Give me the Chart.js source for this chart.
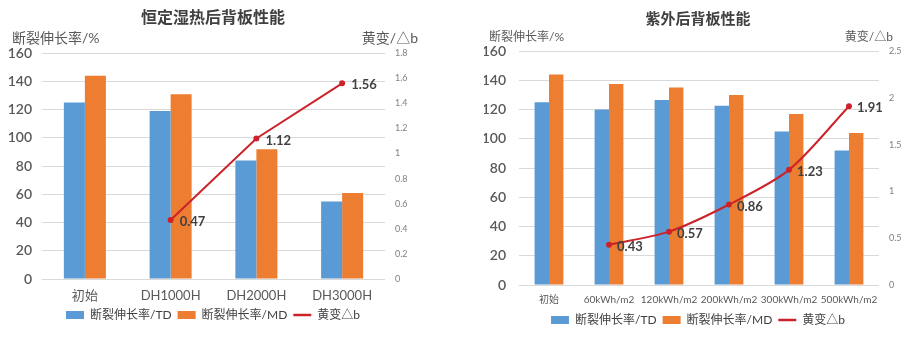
<!DOCTYPE html>
<html>
<head>
<meta charset="utf-8">
<script src="https://cdn.jsdelivr.net/npm/chart.js@4/dist/chart.umd.min.js"></script>
<style>
  html, body { margin: 0; padding: 0; background: #fff; }
  #wrap { position: relative; width: 912px; height: 340px; }
  .panel { position: absolute; top: 0; width: 456px; height: 340px; }
</style>
</head>
<body>
<div id="wrap">
  <div class="panel" style="left:0"><canvas id="dhChart" width="456" height="340"></canvas></div>
  <div class="panel" style="left:456px"><canvas id="uvChart" width="456" height="340"></canvas></div>
</div>
<script>
// 恒定湿热 (damp heat) ageing
const dhCategories = ['初始', 'DH1000H', 'DH2000H', 'DH3000H'];
const dhTD = [125, 119, 84, 55];
const dhMD = [144, 131, 92, 61];
const dhYellowing = [null, 0.47, 1.12, 1.56];

// 紫外 (UV) ageing
const uvCategories = ['初始', '60kWh/m2', '120kWh/m2', '200kWh/m2', '300kWh/m2', '500kWh/m2'];
const uvTD = [125, 120, 126.5, 122.5, 105, 92];
const uvMD = [144, 137.5, 135, 130, 117, 104];
const uvYellowing = [null, 0.43, 0.57, 0.86, 1.23, 1.91];

// axis ranges
const elongationAxis = { min: 0, max: 160, step: 20 };
const dhYellowAxis = { min: 0, max: 1.8, step: 0.2 };
const uvYellowAxis = { min: 0, max: 2.5, step: 0.5 };

const seriesNames = ['断裂伸长率/TD', '断裂伸长率/MD', '黄变△b'];
const leftAxisTitle = '断裂伸长率/%';
const rightAxisTitle = '黄变/△b';

const BLUE = '#5B9BD5';
const ORANGE = '#ED7D31';
const RED = '#CC2229';
const FONT = "Lato, 'Noto Sans CJK SC', sans-serif";

Chart.defaults.font.family = FONT;
Chart.defaults.color = '#595959';

// Draws the two axis captions above the plot and the value labels of the line
const annotate = {
  id: 'annotate',
  afterDatasetsDraw(chart, args, o) {
    const { ctx, chartArea: a } = chart;
    ctx.save();
    ctx.fillStyle = '#595959';
    ctx.textBaseline = 'middle';
    ctx.font = o.axisFont;
    ctx.textAlign = 'left';
    ctx.fillText(leftAxisTitle, a.left + o.leftTitleDx, a.top + o.titleDy);
    ctx.textAlign = 'right';
    ctx.fillText(rightAxisTitle, a.right + o.rightTitleDx, a.top + o.titleDy);

    const ds = chart.data.datasets[2];
    const meta = chart.getDatasetMeta(2);
    ctx.font = o.labelFont;
    ctx.fillStyle = '#404040';
    ctx.textAlign = 'left';
    meta.data.forEach((pt, i) => {
      const v = ds.data[i];
      if (v === null || v === undefined) return;
      ctx.fillText(v.toFixed(2), pt.x + o.labelDx, pt.y + o.labelDy);
    });
    ctx.restore();
  }
};

function legendItems(chart) {
  const items = Chart.defaults.plugins.legend.labels.generateLabels(chart);
  items.sort((p, q) => p.datasetIndex - q.datasetIndex);
  items.forEach(it => {
    if (it.datasetIndex === 2) {
      it.pointStyle = 'line';
      it.strokeStyle = RED;
      it.fillStyle = RED;
      it.lineWidth = 2.5;
    } else {
      it.pointStyle = 'rect';
      it.lineWidth = 0;
    }
  });
  return items;
}

function trimNumber(v) {
  return String(+Number(v).toFixed(2));
}

function buildChart(id, cfg) {
  return new Chart(document.getElementById(id), {
    data: {
      labels: cfg.categories,
      datasets: [
        { type: 'bar', label: seriesNames[0], data: cfg.td, backgroundColor: BLUE, yAxisID: 'y', order: 1,
          categoryPercentage: cfg.catPct, barPercentage: 1.0 },
        { type: 'bar', label: seriesNames[1], data: cfg.md, backgroundColor: ORANGE, yAxisID: 'y', order: 1,
          categoryPercentage: cfg.catPct, barPercentage: 1.0 },
        { type: 'line', label: seriesNames[2], data: cfg.yellow, yAxisID: 'y1', order: 0,
          borderColor: RED, backgroundColor: RED, borderWidth: 2, tension: cfg.tension,
          pointRadius: 2, pointBackgroundColor: RED, pointBorderColor: RED, spanGaps: false }
      ]
    },
    options: {
      responsive: false,
      animation: false,
      events: [],
      layout: { padding: cfg.padding },
      scales: {
        x: {
          grid: { display: false, drawTicks: false },
          border: { display: false },
          ticks: { color: '#595959', font: { size: cfg.catFont }, padding: cfg.catPad, maxRotation: 0, autoSkip: false },
          afterFit: s => { s.height = cfg.xHeight; }
        },
        y: {
          position: 'left',
          min: elongationAxis.min, max: elongationAxis.max,
          ticks: { stepSize: elongationAxis.step, color: '#595959', font: { size: 14, weight: '600' }, padding: cfg.yPad },
          grid: { color: '#D9D9D9', drawTicks: false, lineWidth: 1 },
          border: { display: false },
          afterFit: s => { s.width = cfg.yWidth; }
        },
        y1: {
          position: 'right',
          min: cfg.yAxis.min, max: cfg.yAxis.max,
          ticks: { stepSize: cfg.yAxis.step, color: '#7F7F7F', font: { size: 9 }, padding: 10, callback: trimNumber },
          grid: { display: false, drawTicks: false },
          border: { display: false },
          afterFit: s => { s.width = cfg.y1Width; }
        }
      },
      plugins: {
        title: {
          display: true, text: cfg.title, color: '#404040',
          font: { size: cfg.titleSize, weight: 'bold' }, padding: cfg.titlePad
        },
        legend: {
          position: 'bottom',
          labels: {
            usePointStyle: true, pointStyleWidth: 18, boxHeight: 8, padding: 6,
            color: '#404040', font: { size: cfg.legendFont },
            generateLabels: legendItems
          }
        },
        tooltip: { enabled: false },
        annotate: cfg.annotate
      }
    },
    plugins: [annotate]
  });
}

buildChart('dhChart', {
  categories: dhCategories, td: dhTD, md: dhMD, yellow: dhYellowing,
  yAxis: dhYellowAxis, title: '恒定湿热后背板性能', titleSize: 16,
  titlePad: { top: 8, bottom: 26 },
  padding: { left: 0, right: 30, top: 0, bottom: 9 },
  yWidth: 42, y1Width: 41, xHeight: 24, yPad: 10, catPad: 9, catFont: 13,
  catPct: 0.49, tension: 0, legendFont: 12,
  annotate: { axisFont: "14px " + FONT, leftTitleDx: -30, rightTitleDx: 33, titleDy: -15,
              labelFont: "bold 13px " + FONT, labelDx: 9, labelDy: 2 }
});

buildChart('uvChart', {
  categories: uvCategories, td: uvTD, md: uvMD, yellow: uvYellowing,
  yAxis: uvYellowAxis, title: '紫外后背板性能', titleSize: 15,
  titlePad: { top: 10, bottom: 23 },
  padding: { left: 28, right: 0, top: 0, bottom: 4 },
  yWidth: 35, y1Width: 33, xHeight: 23, yPad: 13, catPad: 9, catFont: 10,
  catPct: 0.48, tension: 0.3, legendFont: 12,
  annotate: { axisFont: "12px " + FONT, leftTitleDx: -30, rightTitleDx: 14, titleDy: -14,
              labelFont: "bold 13px " + FONT, labelDx: 8, labelDy: 2 }
});
</script>
</body>
</html>
